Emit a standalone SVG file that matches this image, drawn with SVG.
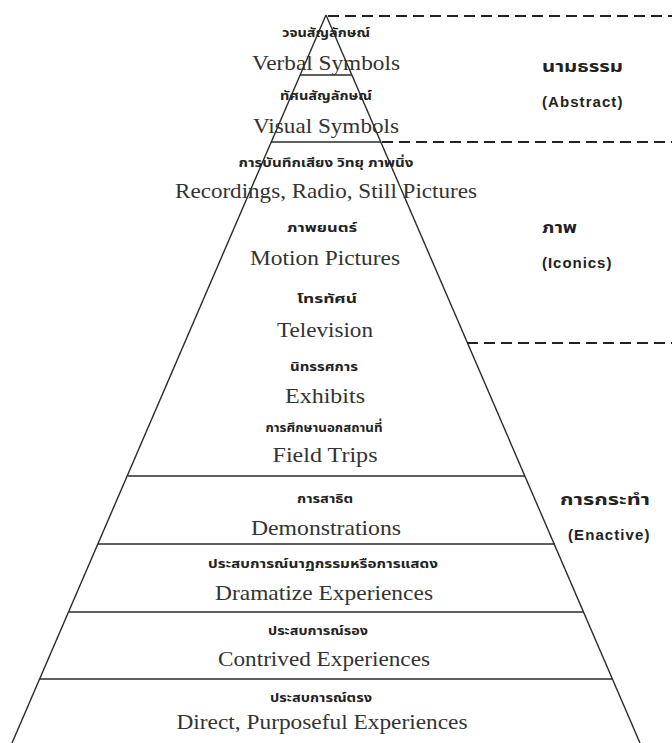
<svg xmlns="http://www.w3.org/2000/svg" width="672" height="743" viewBox="0 0 672 743">
<style>
.edge{stroke:#2a2a2a;stroke-width:1.4;fill:none}
.dash{stroke:#222;stroke-width:2;stroke-dasharray:11 6;fill:none}
.th{font-family:"Noto Sans Thai","Noto Sans","DejaVu Sans",sans-serif;font-size:13px;font-weight:bold;fill:#222;text-anchor:middle}
.en{font-family:"Liberation Serif","Times New Roman",serif;font-size:22px;fill:#333;text-anchor:middle}
.cat{font-family:"Noto Sans Thai","Liberation Sans",Arial,sans-serif;font-size:16px;font-weight:bold;fill:#222}
.cen{font-family:"Liberation Sans",Arial,sans-serif;font-size:15px;font-weight:bold;fill:#222;letter-spacing:0.6px}
</style>
<rect width="672" height="743" fill="#fff"/>
<g id="cone">
<line class="edge" x1="326" y1="15" x2="12" y2="743"/>
<line class="edge" x1="326" y1="15" x2="640" y2="743"/>
<line class="edge" x1="300" y1="75" x2="352" y2="75"/>
<line class="edge" x1="271" y1="142" x2="381" y2="142"/>
<line class="edge" x1="128" y1="476" x2="525" y2="476"/>
<line class="edge" x1="98" y1="544" x2="555" y2="544"/>
<line class="edge" x1="69" y1="612" x2="584" y2="612"/>
<line class="edge" x1="40" y1="679" x2="613" y2="679"/>
</g>
<g id="connectors">
<line class="dash" x1="328" y1="16" x2="672" y2="16"/>
<line class="dash" x1="382" y1="142" x2="672" y2="142"/>
<line class="dash" x1="467" y1="343" x2="672" y2="343"/>
</g>
<g id="verbal">
<text class="th" x="326" y="37" textLength="88" lengthAdjust="spacingAndGlyphs">วจนสัญลักษณ์</text>
<text class="en" x="326" y="70" textLength="148" lengthAdjust="spacingAndGlyphs">Verbal Symbols</text>
</g>
<g id="visual">
<text class="th" x="326" y="100" textLength="92" lengthAdjust="spacingAndGlyphs">ทัศนสัญลักษณ์</text>
<text class="en" x="326" y="133" textLength="146" lengthAdjust="spacingAndGlyphs">Visual Symbols</text>
</g>
<g id="recordings">
<text class="th" x="326" y="167" textLength="175" lengthAdjust="spacingAndGlyphs">การบันทึกเสียง วิทยุ ภาพนิ่ง</text>
<text class="en" x="326" y="198" textLength="302" lengthAdjust="spacingAndGlyphs">Recordings, Radio, Still Pictures</text>
</g>
<g id="motion">
<text class="th" x="322" y="232" textLength="70" lengthAdjust="spacingAndGlyphs">ภาพยนตร์</text>
<text class="en" x="325" y="265" textLength="150" lengthAdjust="spacingAndGlyphs">Motion Pictures</text>
</g>
<g id="television">
<text class="th" x="327" y="303" textLength="60" lengthAdjust="spacingAndGlyphs">โทรทัศน์</text>
<text class="en" x="325" y="337" textLength="96" lengthAdjust="spacingAndGlyphs">Television</text>
</g>
<g id="exhibits">
<text class="th" x="324" y="371" textLength="68" lengthAdjust="spacingAndGlyphs">นิทรรศการ</text>
<text class="en" x="325" y="403" textLength="80" lengthAdjust="spacingAndGlyphs">Exhibits</text>
</g>
<g id="fieldtrips">
<text class="th" x="324" y="432" textLength="117" lengthAdjust="spacingAndGlyphs">การศึกษานอกสถานที่</text>
<text class="en" x="325" y="462" textLength="105" lengthAdjust="spacingAndGlyphs">Field Trips</text>
</g>
<g id="demonstrations">
<text class="th" x="325" y="503" textLength="56" lengthAdjust="spacingAndGlyphs">การสาธิต</text>
<text class="en" x="326" y="535" textLength="150" lengthAdjust="spacingAndGlyphs">Demonstrations</text>
</g>
<g id="dramatize">
<text class="th" x="323" y="568" textLength="230" lengthAdjust="spacingAndGlyphs">ประสบการณ์นาฏกรรมหรือการแสดง</text>
<text class="en" x="324" y="600" textLength="218" lengthAdjust="spacingAndGlyphs">Dramatize Experiences</text>
</g>
<g id="contrived">
<text class="th" x="318" y="635" textLength="100" lengthAdjust="spacingAndGlyphs">ประสบการณ์รอง</text>
<text class="en" x="324" y="666" textLength="212" lengthAdjust="spacingAndGlyphs">Contrived Experiences</text>
</g>
<g id="direct">
<text class="th" x="321" y="702" textLength="102" lengthAdjust="spacingAndGlyphs">ประสบการณ์ตรง</text>
<text class="en" x="322" y="729" textLength="291" lengthAdjust="spacingAndGlyphs">Direct, Purposeful Experiences</text>
</g>
<g id="abstract">
<text class="cat" x="542" y="72" textLength="81" lengthAdjust="spacingAndGlyphs">นามธรรม</text>
<text class="cen" x="542" y="107" textLength="81" lengthAdjust="spacing">(Abstract)</text>
</g>
<g id="iconics">
<text class="cat" x="542" y="233" textLength="35" lengthAdjust="spacingAndGlyphs">ภาพ</text>
<text class="cen" x="542" y="268" textLength="70" lengthAdjust="spacing">(Iconics)</text>
</g>
<g id="enactive">
<text class="cat" x="560" y="505" textLength="90" lengthAdjust="spacingAndGlyphs">การกระทำ</text>
<text class="cen" x="568" y="540" textLength="82" lengthAdjust="spacing">(Enactive)</text>
</g>
</svg>
